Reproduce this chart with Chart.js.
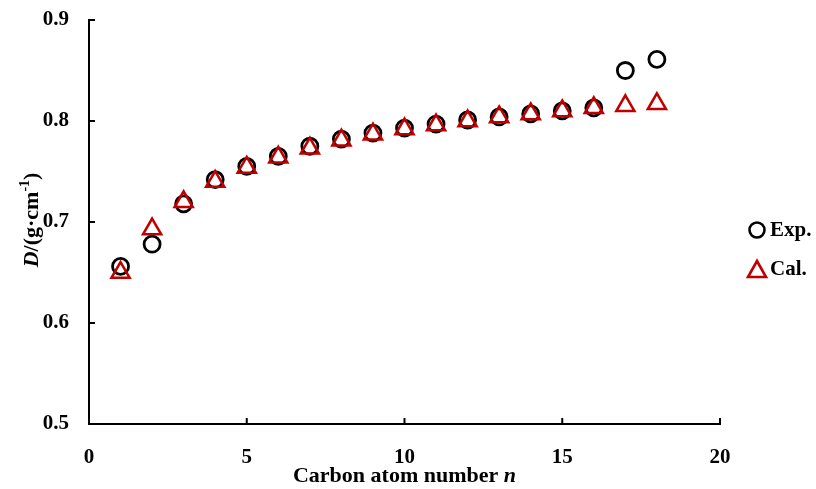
<!DOCTYPE html>
<html>
<head>
<meta charset="utf-8">
<script src="https://cdn.jsdelivr.net/npm/chart.js@4/dist/chart.umd.min.js"></script>
<style>
  html, body { margin: 0; padding: 0; background: #fff; }
  #wrap { width: 816px; height: 489px; }
</style>
</head>
<body>
<div id="wrap"><canvas id="densityChart"></canvas></div>
<script>
// carbon atom number n
const carbonNumbers = [1, 2, 3, 4, 5, 6, 7, 8, 9, 10, 11, 12, 13, 14, 15, 16, 17, 18];
// experimental density (g/cm3)
const expDensity = [0.656, 0.678, 0.718, 0.742, 0.755, 0.765, 0.775, 0.782, 0.788, 0.793, 0.797, 0.801, 0.804, 0.807, 0.810, 0.813, 0.850, 0.861];
// calculated density (g/cm3)
const calDensity = [0.650, 0.693, 0.720, 0.740, 0.754, 0.764, 0.773, 0.781, 0.787, 0.792, 0.796, 0.800, 0.804, 0.807, 0.810, 0.813, 0.815, 0.817];

const xTicks = [0, 5, 10, 15, 20];
const yTicks = [0.5, 0.6, 0.7, 0.8, 0.9];
const legendLabels = ['Exp.', 'Cal.'];

const FONT = "'Liberation Serif', 'Times New Roman', serif";
const RED = '#c00000';

const toPoints = (ys) => carbonNumbers.map((n, i) => ({ x: n, y: ys[i] }));

// axis titles with mixed italic, inward ticks, legend on the right
const decorPlugin = {
    id: 'decor',
    afterDraw(chart) {
        const ctx = chart.ctx;
        const area = chart.chartArea;
        const xs = chart.scales.x;
        const ys = chart.scales.y;

        ctx.save();
        ctx.strokeStyle = '#000';
        ctx.lineWidth = 2;
        xTicks.forEach(v => {
            const px = xs.getPixelForValue(v);
            ctx.beginPath();
            ctx.moveTo(px, area.bottom);
            ctx.lineTo(px, area.bottom - 6);
            ctx.stroke();
        });
        yTicks.forEach(v => {
            const py = ys.getPixelForValue(v);
            ctx.beginPath();
            ctx.moveTo(area.left, py);
            ctx.lineTo(area.left + 6, py);
            ctx.stroke();
        });

        // x title
        ctx.fillStyle = '#000';
        ctx.textBaseline = 'middle';
        const partA = 'Carbon atom number ';
        const partB = 'n';
        ctx.font = `bold 22px ${FONT}`;
        const wA = ctx.measureText(partA).width;
        ctx.font = `italic bold 22px ${FONT}`;
        const wB = ctx.measureText(partB).width;
        let x0 = (area.left + area.right) / 2 - (wA + wB) / 2;
        const ty = 476;
        ctx.textAlign = 'left';
        ctx.font = `bold 22px ${FONT}`;
        ctx.fillText(partA, x0, ty);
        ctx.font = `italic bold 22px ${FONT}`;
        ctx.fillText(partB, x0 + wA, ty);

        // y title, rotated
        const parts = [
            { t: 'D', f: `italic bold 22px ${FONT}`, dy: 0 },
            { t: '/(g\u00b7cm', f: `bold 22px ${FONT}`, dy: 0 },
            { t: '-1', f: `bold 14px ${FONT}`, dy: -7 },
            { t: ')', f: `bold 22px ${FONT}`, dy: 0 }
        ];
        let total = 0;
        parts.forEach(p => { ctx.font = p.f; p.w = ctx.measureText(p.t).width; total += p.w; });
        ctx.translate(32, 220);
        ctx.rotate(-Math.PI / 2);
        let cx = -total / 2;
        parts.forEach(p => {
            ctx.font = p.f;
            ctx.fillText(p.t, cx, p.dy);
            cx += p.w;
        });
        ctx.setTransform(1, 0, 0, 1, 0, 0);

        // legend
        ctx.font = `bold 21px ${FONT}`;
        ctx.textAlign = 'left';
        ctx.lineWidth = 2.6;
        ctx.strokeStyle = '#000';
        ctx.beginPath();
        ctx.arc(757, 230, 7.5, 0, Math.PI * 2);
        ctx.stroke();
        ctx.fillText(legendLabels[0], 770, 231);

        ctx.strokeStyle = RED;
        ctx.beginPath();
        ctx.moveTo(757, 261);
        ctx.lineTo(766, 277);
        ctx.lineTo(748, 277);
        ctx.closePath();
        ctx.stroke();
        ctx.fillText(legendLabels[1], 770, 270);
        ctx.restore();
    }
};

new Chart(document.getElementById('densityChart'), {
    type: 'scatter',
    data: {
        datasets: [
            {
                label: legendLabels[0],
                data: toPoints(expDensity),
                pointStyle: 'circle',
                pointRadius: 8,
                pointHoverRadius: 8,
                borderColor: '#000',
                backgroundColor: 'rgba(0,0,0,0)',
                pointBorderWidth: 2.8,
                order: 2
            },
            {
                label: legendLabels[1],
                data: toPoints(calDensity),
                pointStyle: 'triangle',
                pointRadius: 10.5,
                pointHoverRadius: 10.5,
                borderColor: RED,
                backgroundColor: 'rgba(0,0,0,0)',
                pointBorderWidth: 2.5,
                order: 1
            }
        ]
    },
    options: {
        responsive: true,
        maintainAspectRatio: false,
        animation: false,
        layout: { padding: { top: 20, right: 96, left: 0, bottom: 0 } },
        plugins: {
            legend: { display: false },
            tooltip: { enabled: false }
        },
        scales: {
            x: {
                type: 'linear',
                min: 0,
                max: 20,
                afterFit: (s) => { s.height = 65; },
                afterBuildTicks: (s) => { s.ticks = xTicks.map(v => ({ value: v })); },
                border: { color: '#000', width: 2 },
                grid: { display: false },
                ticks: {
                    color: '#000',
                    padding: 13,
                    font: { family: FONT, size: 21, weight: 'bold' }
                }
            },
            y: {
                type: 'linear',
                min: 0.5,
                max: 0.9,
                afterFit: (s) => { s.width = 89; s.paddingTop = 0; s.paddingBottom = 0; },
                afterBuildTicks: (s) => { s.ticks = yTicks.map(v => ({ value: v })); },
                border: { color: '#000', width: 2 },
                grid: { display: false, tickLength: 5 },
                ticks: {
                    color: '#000',
                    padding: 15,
                    font: { family: FONT, size: 21, weight: 'bold' },
                    callback: (v) => v.toFixed(1)
                }
            }
        }
    },
    plugins: [decorPlugin]
});
</script>
</body>
</html>
